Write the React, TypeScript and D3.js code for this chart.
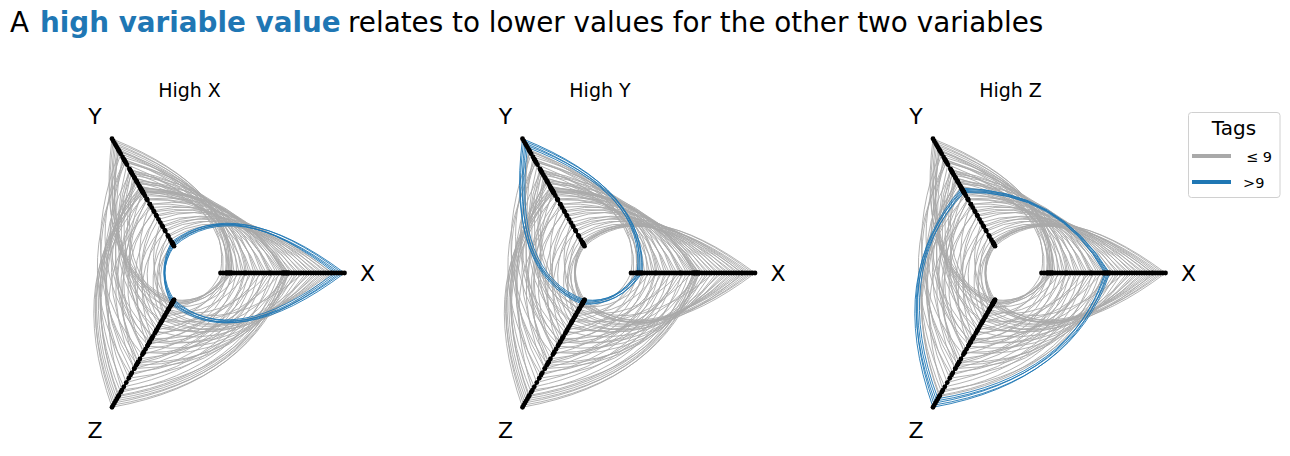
import React from 'react'
import * as d3 from 'd3'

// one entry per record (same records in every panel)
const xValues = [
    10.0, 9.8, 9.6, 9.4, 9.2, 0.6, 0.8, 0.5, 0.9, 0.7, 5.3, 5.5, 5.1, 5.4, 5.2,
    0.0, 0.2, 0.4, 0.5, 0.7, 0.9, 1.1, 1.3, 1.5, 1.7, 1.9, 2.1, 2.3, 2.5, 2.7, 2.9, 3.1, 3.3, 3.5, 3.7,
    3.9, 4.1, 4.3, 4.5, 4.7, 4.9, 5.1, 5.3, 5.5, 5.7, 5.9, 6.1, 6.3, 6.5, 6.7, 6.9, 7.1, 7.3, 7.5, 7.7,
    7.9, 8.1, 8.3, 8.5, 8.7, 8.9, 9.0, 5.0, 4.0, 2.0
]
const yValues = [
    0.1, 0.3, 0.0, 0.2, 0.4, 10.0, 9.8, 9.6, 9.4, 9.2, 5.2, 5.0, 5.4, 5.3, 5.1,
    8.9, 7.6, 9.0, 8.1, 6.9, 8.6, 7.2, 8.8, 6.4, 7.9, 6.0, 8.3, 7.0, 5.6, 7.8, 6.3, 5.2, 7.1, 6.0, 4.9,
    6.6, 5.5, 4.4, 6.1, 5.0, 3.9, 5.8, 4.3, 3.6, 5.1, 3.2, 4.4, 2.8, 3.9, 2.2, 3.3, 1.8, 2.9, 1.4, 2.5,
    0.9, 1.9, 0.6, 1.5, 0.3, 1.0, 0.2, 4.7, 6.8, 8.0
]
const zValues = [
    0.2, 0.0, 0.4, 0.3, 0.1, 0.2, 0.4, 0.1, 0.3, 0.0, 10.0, 9.8, 9.6, 9.4, 9.2,
    0.8, 2.1, 0.3, 3.4, 1.5, 4.2, 2.8, 5.1, 0.6, 3.9, 5.8, 1.2, 6.4, 3.1, 7.0, 4.6, 7.7, 2.0, 8.1, 5.5,
    0.9, 8.6, 3.6, 6.8, 8.9, 1.7, 7.3, 4.9, 8.4, 2.6, 6.1, 6.4, 3.9, 5.8, 0.4, 4.9, 4.3, 2.4, 3.6, 2.9,
    1.9, 2.2, 1.4, 1.1, 0.9, 0.5, 1.6, 9.0, 4.0, 6.0
]

const axisNames = ['X', 'Y', 'Z']
const panelTitles = ['High X', 'High Y', 'High Z']
const threshold = 9
const legendTitle = 'Tags'
const legendLabels = ['\u2264 9', '>9']

const WIDTH = 1290
const HEIGHT = 456
const GRAY = '#a9a9a9'
const BLUE = '#1f77b4'
const FONT = '"DejaVu Sans", sans-serif'

const INNER = 31
const OUTER = 155
const CY = 273
const panelCenters = [189.5, 600, 1010.5]
const axisAngles = [0, 120, 240]
const axisPairs = [
    [0, 1],
    [1, 2],
    [2, 0]
]

const columns = [xValues, yValues, zValues]
const radius = columns.map((col) =>
    d3
        .scaleLinear()
        .domain(d3.extent(col) as [number, number])
        .range([INNER, OUTER])
)

const polar = (cx: number, angle: number, r: number): [number, number] => {
    const a = (angle * Math.PI) / 180
    return [cx + r * Math.cos(a), CY - r * Math.sin(a)]
}

// quadratic bezier, control point halfway between the axes at the mean radius
const edgePath = (cx: number, i: number, a: number, b: number) => {
    const ra = radius[a](columns[a][i])
    const rb = radius[b](columns[b][i])
    const angA = axisAngles[a]
    let angB = axisAngles[b]
    if (angB < angA) angB += 360
    const [x0, y0] = polar(cx, angA, ra)
    const [x1, y1] = polar(cx, angB, rb)
    const [qx, qy] = polar(cx, (angA + angB) / 2, (ra + rb) / 2)
    const p = d3.path()
    p.moveTo(x0, y0)
    p.quadraticCurveTo(qx, qy, x1, y1)
    return p.toString()
}

const Panel: React.FC<{ k: number }> = ({ k }) => {
    const cx = panelCenters[k]
    const idx = d3.range(xValues.length)
    const tagged = idx.filter((i) => columns[k][i] > threshold)
    const plain = idx.filter((i) => columns[k][i] <= threshold)
    const labelPos = [polar(cx, 0, 178), polar(cx, 121, 183.5), polar(cx, 239, 183.5)]

    return (
        <g>
            <text x={cx} y={96.5} textAnchor="middle" fontSize={19} fontFamily={FONT}>
                {panelTitles[k]}
            </text>
            <g fill="none" strokeWidth={0.9}>
                {plain.map((i) =>
                    axisPairs.map(([a, b]) => (
                        <path key={`g${i}-${a}`} d={edgePath(cx, i, a, b)} stroke={GRAY} />
                    ))
                )}
                {tagged.map((i) =>
                    axisPairs.map(([a, b]) => (
                        <path key={`b${i}-${a}`} d={edgePath(cx, i, a, b)} stroke={BLUE} />
                    ))
                )}
            </g>
            {axisAngles.map((ang, a) => {
                const [x0, y0] = polar(cx, ang, INNER)
                const [x1, y1] = polar(cx, ang, OUTER)
                return (
                    <g key={a}>
                        <line x1={x0} y1={y0} x2={x1} y2={y1} stroke="black" strokeWidth={2.2} />
                        {columns[a].map((v, i) => {
                            const [px, py] = polar(cx, ang, radius[a](v))
                            return <circle key={i} cx={px} cy={py} r={2.4} fill="black" />
                        })}
                        <text
                            x={labelPos[a][0]}
                            y={labelPos[a][1]}
                            dy="0.36em"
                            textAnchor="middle"
                            fontSize={22}
                            fontFamily={FONT}
                        >
                            {axisNames[a]}
                        </text>
                    </g>
                )
            })}
        </g>
    )
}

export default function App() {
    return (
        <svg
            width={WIDTH}
            height={HEIGHT}
            style={{ position: 'absolute', left: 0, top: 0, background: 'white' }}
        >
            <text y={32} fontSize={27.8} fontFamily={FONT}>
                <tspan x={10}>A</tspan>
                <tspan x={40} fontWeight="bold" fill={BLUE}>
                    high variable value
                </tspan>
                <tspan x={348}>relates to lower values for the other two variables</tspan>
            </text>
            {[0, 1, 2].map((k) => (
                <Panel key={k} k={k} />
            ))}
            <g fontFamily={FONT}>
                <rect x={1188.5} y={112.5} width={91.5} height={85} rx={3} fill="white" stroke="#d0d0d0" />
                <text x={1234} y={135} textAnchor="middle" fontSize={20}>
                    {legendTitle}
                </text>
                <line x1={1192} x2={1231} y1={156} y2={156} stroke={GRAY} strokeWidth={4} />
                <text x={1246} y={161.5} fontSize={14.5}>
                    {legendLabels[0]}
                </text>
                <line x1={1192} x2={1231} y1={182} y2={182} stroke={BLUE} strokeWidth={4} />
                <text x={1243} y={188} fontSize={14.5}>
                    {legendLabels[1]}
                </text>
            </g>
        </svg>
    )
}
